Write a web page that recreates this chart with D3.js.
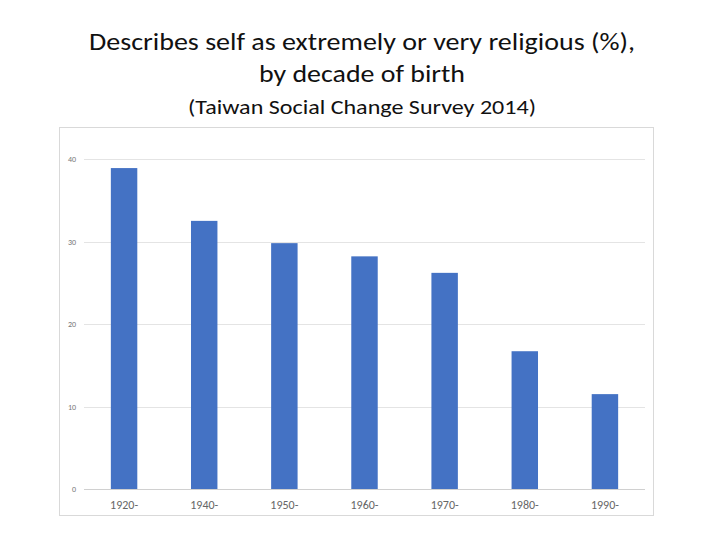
<!DOCTYPE html>
<html><head><meta charset="utf-8">
<script src="https://cdn.jsdelivr.net/npm/d3@7"></script>
<style>body{margin:0;background:#fff}</style>
</head><body>
<svg id="chart" width="720" height="540"></svg>
<script>
// values
var decades = ["1920-", "1940-", "1950-", "1960-", "1970-", "1980-", "1990-"];
var religious = [38.9, 32.5, 29.8, 28.2, 26.2, 16.7, 11.5];
var yTicks = [0, 10, 20, 30, 40];

var svg = d3.select("#chart");
var font = "Calibri, Carlito, 'Liberation Sans', sans-serif";

function title(txt, cx, cy, size, len){
  svg.append("text").attr("x", cx).attr("y", cy).attr("text-anchor", "middle")
    .attr("textLength", len).attr("lengthAdjust", "spacingAndGlyphs")
    .style("font-family", font).style("font-size", size + "px").attr("fill", "#111")
    .text(txt);
}
title("Describes self as extremely or very religious (%),", 362, 50, 25, 546);
title("by decade of birth", 362, 82, 25, 206);
title("(Taiwan Social Change Survey 2014)", 362, 114, 21, 348);

svg.append("rect").attr("x", 59.5).attr("y", 127.5).attr("width", 594).attr("height", 388)
  .attr("fill", "none").attr("stroke", "#d9d9d9");

var x = d3.scaleBand().domain(decades).range([84, 645]).paddingInner(0.67).paddingOuter(0.335);
var y = d3.scaleLinear().domain([0, 40]).range([489, 159]);

var grid = svg.append("g");
grid.selectAll("line").data(yTicks).enter().append("line")
  .attr("x1", 84).attr("x2", 645)
  .attr("y1", function(d){ return Math.round(y(d)) + 0.5; })
  .attr("y2", function(d){ return Math.round(y(d)) + 0.5; })
  .attr("stroke", function(d){ return d === 0 ? "#d0d0d0" : "#e4e4e4"; });

var yAxis = svg.append("g").attr("transform", "translate(76,0)")
  .call(d3.axisLeft(y).tickValues(yTicks).tickSize(0).tickPadding(0));
yAxis.select(".domain").remove();
yAxis.selectAll("text").style("font-family", font).style("font-size", "8px").attr("fill", "#777");

svg.append("g").selectAll("rect").data(religious).enter().append("rect")
  .attr("x", function(d, i){ return x(decades[i]); })
  .attr("width", x.bandwidth())
  .attr("y", function(d){ return y(d); })
  .attr("height", function(d){ return y(0) - y(d); })
  .attr("fill", "#4472c4");

var xAxis = svg.append("g").attr("transform", "translate(0,489)")
  .call(d3.axisBottom(x).tickSize(0).tickPadding(11));
xAxis.select(".domain").remove();
xAxis.selectAll("text").style("font-family", font).style("font-size", "12px").attr("fill", "#666");
</script>
</body></html>
